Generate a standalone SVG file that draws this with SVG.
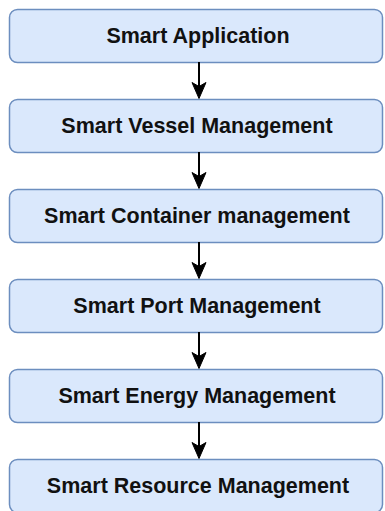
<svg xmlns="http://www.w3.org/2000/svg" width="385" height="511" viewBox="0 0 385 511">
  <style>
    .box { fill: #dae8fc; stroke: #6c8ebf; stroke-width: 1.5; }
    .label { font-family: "Liberation Sans", Arial, sans-serif; font-weight: bold; font-size: 21.5px; fill: #111111; text-anchor: middle; }
    .edge { stroke: #000000; stroke-width: 2; fill: none; }
    .head { fill: #000000; stroke: #000000; stroke-width: 1; stroke-linejoin: miter; }
  </style>
  <rect width="385" height="511" fill="#ffffff"/>

  <g id="node-application">
    <rect class="box" x="9.5" y="9.5" width="373" height="53" rx="8"/>
    <text class="label" x="198" y="42.5">Smart Application</text>
  </g>
  <g id="node-vessel">
    <rect class="box" x="9.5" y="99.5" width="373" height="53" rx="8"/>
    <text class="label" x="197" y="132.5">Smart Vessel Management</text>
  </g>
  <g id="node-container">
    <rect class="box" x="9.5" y="189.5" width="373" height="53" rx="8"/>
    <text class="label" x="197" y="222.5">Smart Container management</text>
  </g>
  <g id="node-port">
    <rect class="box" x="9.5" y="279.5" width="373" height="53" rx="8"/>
    <text class="label" x="197" y="312.5">Smart Port Management</text>
  </g>
  <g id="node-energy">
    <rect class="box" x="9.5" y="369.5" width="373" height="53" rx="8"/>
    <text class="label" x="197" y="402.5">Smart Energy Management</text>
  </g>
  <g id="node-resource">
    <rect class="box" x="9.5" y="459.5" width="373" height="53" rx="8"/>
    <text class="label" x="198" y="492.5">Smart Resource Management</text>
  </g>

  <g id="connectors">
    <path class="edge" d="M199 62 V88"/>
    <path class="head" d="M199 98.5 L192 82.5 L199 86.5 L206 82.5 Z"/>
    <path class="edge" d="M199 152 V178"/>
    <path class="head" d="M199 188.5 L192 172.5 L199 176.5 L206 172.5 Z"/>
    <path class="edge" d="M199 242 V268"/>
    <path class="head" d="M199 278.5 L192 262.5 L199 266.5 L206 262.5 Z"/>
    <path class="edge" d="M199 332 V358"/>
    <path class="head" d="M199 368.5 L192 352.5 L199 356.5 L206 352.5 Z"/>
    <path class="edge" d="M199 422 V448"/>
    <path class="head" d="M199 458.5 L192 442.5 L199 446.5 L206 442.5 Z"/>
  </g>
</svg>
